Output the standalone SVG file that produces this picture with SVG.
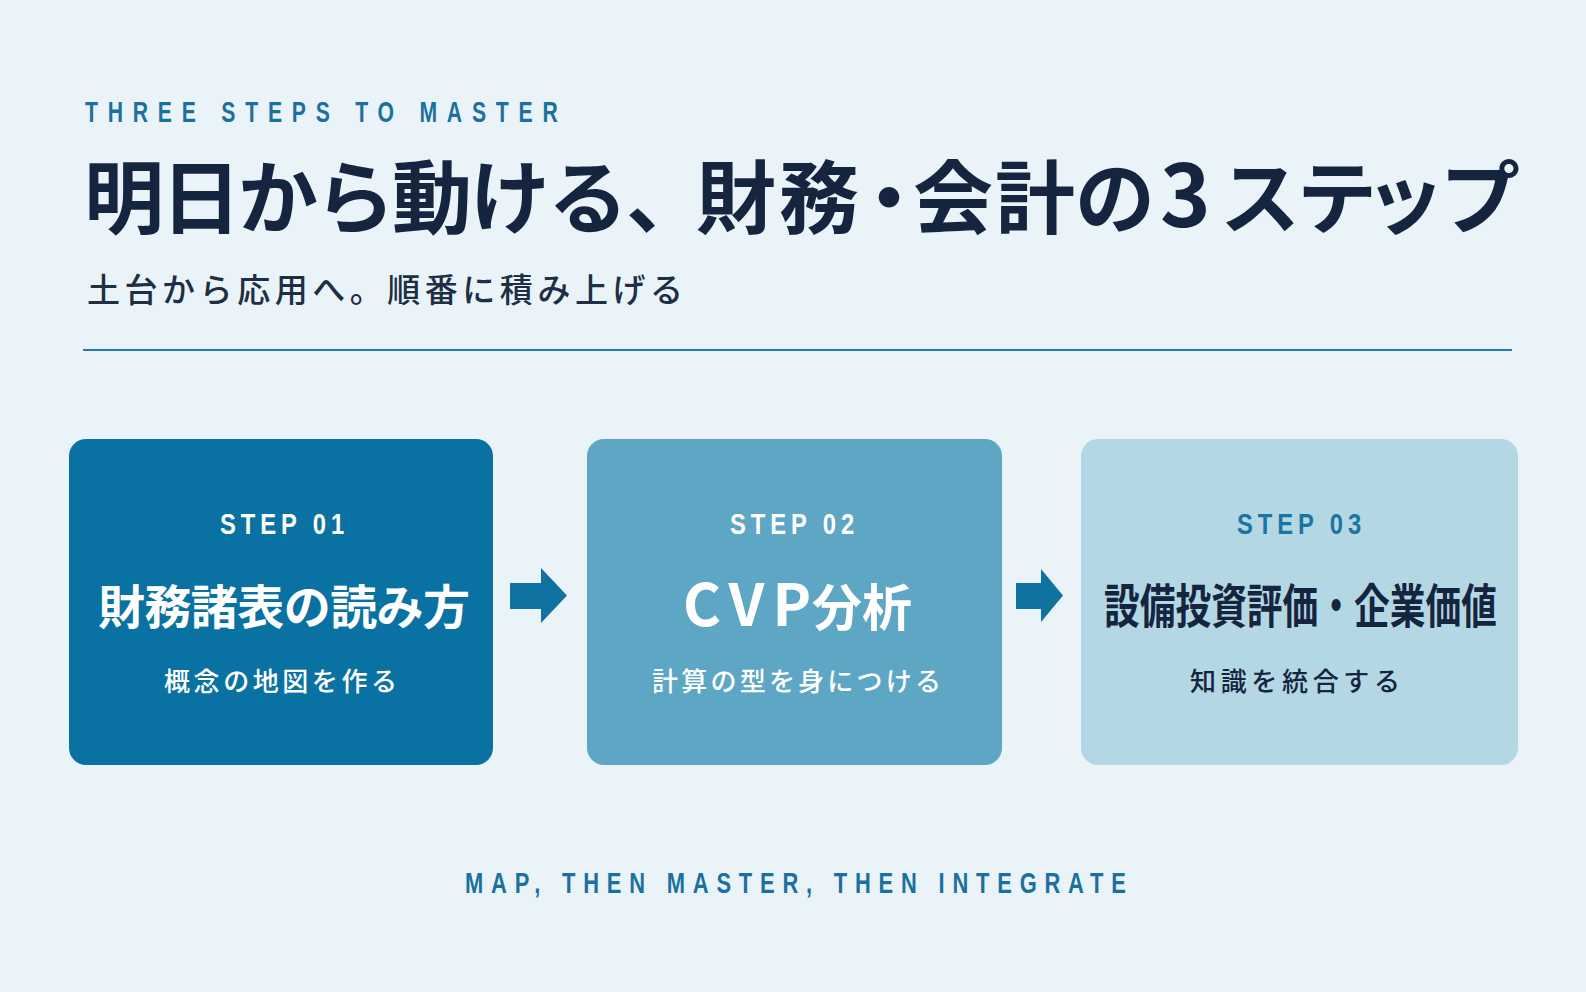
<svg xmlns="http://www.w3.org/2000/svg" width="1586" height="992" viewBox="0 0 1586 992">
  <defs>
    <style>
      .cjk { font-family: "Noto Sans CJK JP", "Noto Sans", sans-serif; }
      .lat { font-family: "Liberation Sans", Arial, sans-serif; font-weight: 700; }
      .kicker { fill: #1B70A0; font-size: 29px; letter-spacing: 13.4px; }
      .foot { fill: #1B70A0; font-size: 30px; letter-spacing: 10.7px; }
      .step { font-size: 29px; letter-spacing: 6px; }
      .title { fill: #15253F; font-size: 80px; font-weight: 700; }
      .subtitle { fill: #1E2E45; font-size: 33px; font-weight: 500; }
      .boxtitle { font-size: 47px; font-weight: 700; }
      .boxsub { font-size: 26px; font-weight: 500; }
      .white { fill: #FFFFFF; }
      .dark { fill: #15253F; }
      .arrow { fill: #1072A0; }
    </style>
  </defs>
  <rect x="0" y="0" width="1586" height="992" fill="#EAF4F8"/>

  <g id="header">
    <text class="lat kicker" transform="translate(85,122) scale(0.73,1)">THREE STEPS TO MASTER</text>
    <text class="cjk title" y="227" x="84 161 238 315 392 470 548 626 696 779 849 913 995 1075 1160 1220 1297 1365 1440">明日から動ける、財務・会計の<tspan style="font-size:86px">3</tspan>ステップ</text>
    <text class="cjk subtitle" x="87" y="302" textLength="596" lengthAdjust="spacing">土台から応用へ。順番に積み上げる</text>
    <line x1="83" y1="350" x2="1512" y2="350" stroke="#2479AD" stroke-width="2"/>
  </g>

  <g id="step1">
    <rect x="69" y="439" width="424" height="326" rx="17" fill="#0A72A2"/>
    <text class="lat step white" transform="translate(220,534) scale(0.82,1)">STEP 01</text>
    <text class="cjk boxtitle white" x="98" y="624" textLength="372" lengthAdjust="spacing">財務諸表の読み方</text>
    <text class="cjk boxsub white" x="164" y="691" textLength="233" lengthAdjust="spacing">概念の地図を作る</text>
  </g>

  <g id="step2">
    <rect x="587" y="439" width="415" height="326" rx="17" fill="#5DA7C5"/>
    <text class="lat step white" transform="translate(730,534) scale(0.82,1)">STEP 02</text>
    <text class="cjk white" y="626" style="font-weight:700"><tspan x="683" style="font-size:58px;letter-spacing:8px">CVP</tspan><tspan x="812 862" style="font-size:50px">分析</tspan></text>
    <text class="cjk boxsub white" x="652" y="691" textLength="289" lengthAdjust="spacing">計算の型を身につける</text>
  </g>

  <g id="step3">
    <rect x="1081" y="439" width="437" height="326" rx="17" fill="#B4D7E4"/>
    <text class="lat step" fill="#1A74A4" transform="translate(1237,534) scale(0.82,1)">STEP 03</text>
    <text class="cjk boxtitle dark" transform="translate(1104,623) scale(0.76,1)">設備投資評価・企業価値</text>
    <text class="cjk boxsub dark" x="1190" y="691" textLength="210" lengthAdjust="spacing">知識を統合する</text>
  </g>

  <g id="connectors">
    <polygon class="arrow" points="510,583 541,583 541,568 567,595.5 541,623 541,609 510,609"/>
    <polygon class="arrow" points="1016,583 1041,583 1041,569 1063,595.5 1041,622 1041,609 1016,609"/>
  </g>

  <g id="footer">
    <text class="lat foot" transform="translate(465,893) scale(0.73,1)">MAP, THEN MASTER, THEN INTEGRATE</text>
  </g>
</svg>
